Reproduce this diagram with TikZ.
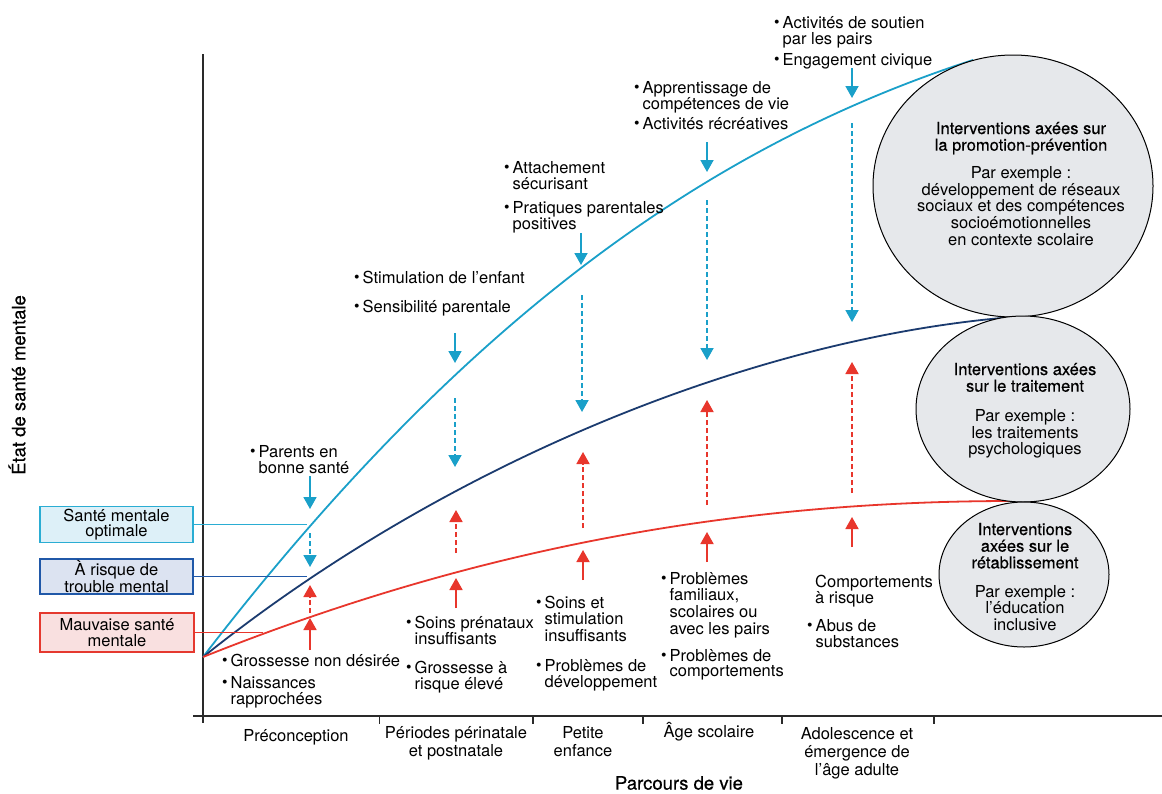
\documentclass[tikz,border=0pt]{standalone}
\usepackage{fontspec}
\setmainfont{TeX Gyre Heros}
\newfontfamily\medfont{TeX Gyre Heros}[FakeBold=0.5]
\usetikzlibrary{arrows.meta,shapes.geometric}
\definecolor{cy}{HTML}{1AA0C9}
\definecolor{nv}{HTML}{1B3B6F}
\definecolor{rd}{HTML}{E8362C}
\definecolor{cybox}{HTML}{2AADD3}
\definecolor{cyfill}{HTML}{DDF0F8}
\definecolor{blbox}{HTML}{2058A8}
\definecolor{blfill}{HTML}{DCE3F1}
\definecolor{rdbox}{HTML}{E5392F}
\definecolor{rdfill}{HTML}{F9E0E0}
\definecolor{elfill}{HTML}{E6E8EB}
\definecolor{axc}{HTML}{2A2A2A}
\newcommand\lab{\fontsize{16.5}{15.5}\selectfont}
\newcommand\axl{\fontsize{16.5}{18}\selectfont}
\newcommand\axt{\fontsize{18.5}{20}\selectfont\medfont}
\newcommand\bul{\makebox[8.5pt][l]{\raisebox{0.02em}{\scalebox{0.95}{\textbullet}}}}
\newcommand\bitem[1]{\begin{tabular}[t]{@{}l@{}l@{}}\bul&#1\end{tabular}}
\newcommand\ctab[1]{\begin{tabular}[t]{@{}c@{}}#1\end{tabular}}
\begin{document}
\begin{tikzpicture}[x=1pt,y=-1pt,
  bl/.style={anchor=base west, inner sep=0pt, font=\lab},
  axlab/.style={anchor=base, inner sep=0pt, font=\axl},
  legendbox/.style={rectangle, line width=1.8pt, minimum width=153pt, minimum height=36pt, inner sep=0pt, align=center, font=\lab},
  ell/.style={ellipse, draw=black, line width=1pt, fill=elfill, inner sep=0pt},
  eltext/.style={anchor=base, inner sep=0pt, font=\lab},
  curve/.style={line width=1.8pt},
  tipc/.style={-{Triangle[width=13pt,length=12pt]}},
  cysolid/.style={draw=cy, line width=1.8pt, tipc},
  cydash/.style={cysolid, dash pattern=on 5pt off 3pt},
  rdsolid/.style={draw=rd, line width=1.8pt, tipc},
  rddash/.style={rdsolid, dash pattern=on 5pt off 3pt},
  axisline/.style={draw=axc, line width=1.5pt}
]
\useasboundingbox[fill=white] (0,0) rectangle (1162,793);

% axes
\coordinate (ytop) at (203,54);
\coordinate (ybot) at (203,723);
\coordinate (xl) at (193,716);
\coordinate (xr) at (1162,716);
\draw[axisline] (ytop) -- (ybot);
\draw[axisline] (xl) -- (xr);
\foreach \t in {379.5,533,643,782,934}{
  \draw[axisline] (\t,716) -- (\t,724);
}

% curves
\coordinate (o) at (203,657);
\draw[curve, draw=cy] (o) .. controls (473,306) and (721,142) .. (973,60);
\draw[curve, draw=nv] (o) .. controls (453,457) and (763,337) .. (1013,317);
\draw[curve, draw=rd] (o) .. controls (453,557) and (712,501) .. (1012,501);

% ellipses
\node[ell, minimum width=280pt, minimum height=262pt] (e1) at (1013,186) {};
\node[ell, minimum width=214pt, minimum height=186pt] (e2) at (1023,409) {};
\node[ell, minimum width=170pt, minimum height=145pt] (e3) at (1024,574.5) {};

\node[eltext] (t1) at (1021,134) {\ctab{\fontsize{16.5}{19.3}\selectfont{\medfont Interventions axées sur}\\{\medfont la promotion-prévention}\\[11pt]
Par exemple :\\développement de réseaux\\sociaux et des compétences\\socioémotionnelles\\en contexte scolaire}};
\node[eltext] (t2) at (1025,375) {\ctab{\fontsize{16.5}{18.7}\selectfont{\medfont Interventions axées}\\{\medfont sur le traitement}\\[13pt]
Par exemple :\\les traitements\\psychologiques}};
\node[eltext] (t3) at (1025,535) {\ctab{\fontsize{16.5}{17.5}\selectfont{\medfont Interventions}\\{\medfont axées sur le}\\{\medfont rétablissement}\\[12pt]
Par exemple :\\l'éducation\\inclusive}};

% legend boxes
\node[legendbox, draw=cybox, fill=cyfill] (b1) at (116.5,524.5) {Santé mentale\\optimale};
\node[legendbox, draw=blbox, fill=blfill, minimum height=35pt] (b2) at (116.5,576.5) {À risque de\\trouble mental};
\node[legendbox, draw=rdbox, fill=rdfill, minimum width=154pt, minimum height=39pt] (b3) at (117,632.5) {Mauvaise santé\\mentale};
\coordinate (c1) at (307,524.5);
\coordinate (c2) at (307,576.5);
\coordinate (c3) at (263,632.5);
\draw[draw=cybox, line width=1.6pt] (b1.east) -- (c1);
\draw[draw=blbox, line width=1.6pt] (b2.east) -- (c2);
\draw[draw=rd, line width=1.6pt] (b3.east) -- (c3);

% cyan solid arrows
\draw[cysolid] (310,476) -- (310,509);
\draw[cysolid] (455,333) -- (455,363);
\draw[cysolid] (581,233) -- (581,265);
\draw[cysolid] (707,142) -- (707,172);
\draw[cysolid] (852,68) -- (852,98);
% cyan dashed arrows
\draw[cydash] (310,533) -- (310,567);
\draw[cydash] (455,398) -- (455,467);
\draw[cydash] (582,295) -- (582,412);
\draw[cydash] (707,200) -- (707,360);
\draw[cydash] (852,123) -- (852,322);
% red dashed arrows
\draw[rddash] (310,613) -- (310,585);
\draw[rddash] (456,553) -- (456,510);
\draw[rddash] (583,528) -- (583,452);
\draw[rddash] (707,505) -- (707,400);
\draw[rddash] (852,493) -- (852,362);
% red solid arrows
\draw[rdsolid] (310,650) -- (310,618);
\draw[rdsolid] (456,608) -- (456,578);
\draw[rdsolid] (583,580) -- (583,550);
\draw[rdsolid] (707,562) -- (707,532);
\draw[rdsolid] (852,547) -- (852,517);

% upper labels
\node[bl] (l1) at (250,457) {\bitem{Parents en\\&bonne santé}};
\node[bl] (l2a) at (354,283) {\bitem{Stimulation de l'enfant}};
\node[bl] (l2b) at (354,312) {\bitem{Sensibilité parentale}};
\node[bl] (l3a) at (504,173) {\bitem{Attachement\\&sécurisant}};
\node[bl] (l3b) at (504,213) {\bitem{Pratiques parentales\\&positives}};
\node[bl] (l4a) at (634,93) {\bitem{Apprentissage de\\&compétences de vie}};
\node[bl] (l4b) at (634,129) {\bitem{Activités récréatives}};
\node[bl] (l5a) at (774,28) {\bitem{Activités de soutien\\&par les pairs}};
\node[bl] (l5b) at (774,65) {\bitem{Engagement civique}};

% lower labels
\node[bl] (m1a) at (222,666) {\bitem{Grossesse non désirée}};
\node[bl] (m1b) at (222,688) {\bitem{Naissances\\&rapprochées}};
\node[bl] (m2a) at (406,628) {\bitem{Soins prénataux\\&insuffisants}};
\node[bl] (m2b) at (406,673) {\bitem{Grossesse à\\&risque élevé}};
\node[bl] (m3a) at (536,608) {\bitem{Soins et\\&stimulation\\&insuffisants}};
\node[bl] (m3b) at (536,671) {\bitem{Problèmes de\\&développement}};
\node[bl] (m4a) at (661,584) {\bitem{Problèmes\\&familiaux,\\&scolaires ou\\&avec les pairs}};
\node[bl] (m4b) at (661,661) {\bitem{Problèmes de\\&comportements}};
\node[bl] (m5a) at (815,587) {\begin{tabular}[t]{@{}l@{}}Comportements\\à risque\end{tabular}};
\node[bl] (m5b) at (807,631) {\bitem{Abus de\\&substances}};

% axis category labels
\node[axlab] (a1) at (296,741) {\ctab{Préconception}};
\node[axlab] (a2) at (456,738) {\ctab{Périodes périnatale\\et postnatale}};
\node[axlab] (a3) at (583,738) {\ctab{Petite\\enfance}};
\node[axlab] (a4) at (709,737) {\ctab{Âge scolaire}};
\node[axlab] (a5) at (857,739) {\ctab{Adolescence et\\émergence de\\l'âge adulte}};
\node[inner sep=0pt, font=\axt] (xt) at (679,783) {Parcours de vie};
\node[inner sep=0pt, font=\axt, rotate=90] (yt) at (17,385) {État de santé mentale};
\end{tikzpicture}
\end{document}
